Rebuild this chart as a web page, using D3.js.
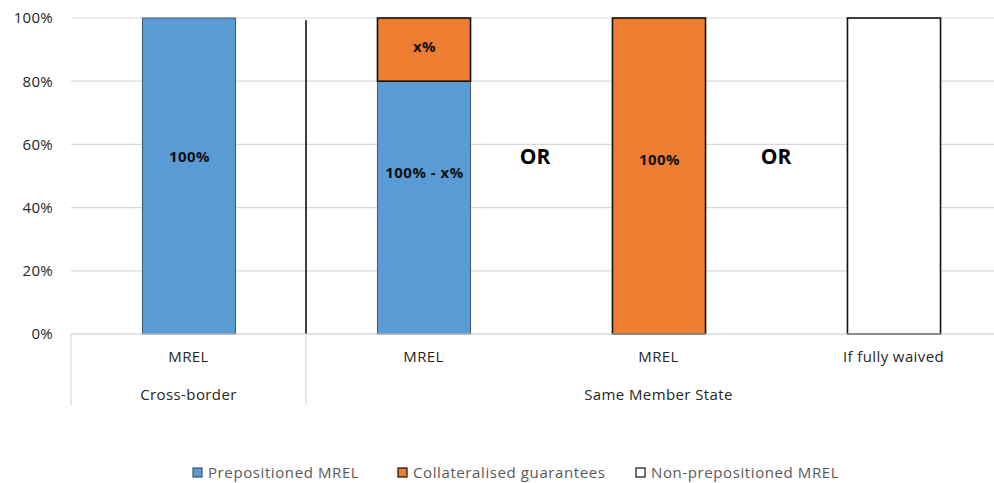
<!DOCTYPE html>
<html>
<head>
<meta charset="utf-8">
<script src="https://cdn.jsdelivr.net/npm/d3@7"></script>
<style>
  body { margin: 0; background: #fff; }
  svg { display: block; font-family: "Open Sans", "Liberation Sans", sans-serif; }
</style>
</head>
<body>
<svg id="chart" width="994" height="483"></svg>
<script>
// chart data
const categories = ["MREL", "MREL", "MREL", "If fully waived"];
const groups = [
  { label: "Cross-border", from: 0, to: 0 },
  { label: "Same Member State", from: 1, to: 3 }
];
const prepositioned = [100, 80, 0, 0];
const collateralised = [0, 20, 100, 0];
const nonPrepositioned = [0, 0, 0, 100];
const barLabels = [
  { i: 0, text: "100%", at: 56 },
  { i: 1, text: "100% - x%", at: 51 },
  { i: 1, text: "x%", at: 91 },
  { i: 2, text: "100%", at: 55 }
];
const orLabels = [
  { after: 1, text: "OR" },
  { after: 2, text: "OR" }
];
const yTicks = [0, 20, 40, 60, 80, 100];
const seriesNames = ["Prepositioned MREL", "Collateralised guarantees", "Non-prepositioned MREL"];
const seriesKeys = ["pre", "col", "non"];

const fills = { pre: "#5b9bd5", col: "#ed7d31", non: "#ffffff" };
const strokes = { pre: "#41566b", col: "#111111", non: "#111111" };

const svg = d3.select("#chart");
const plotLeft = 71, plotRight = 1011, plotTop = 18, plotBottom = 334;

const rows = categories.map((c, i) => ({
  i, pre: prepositioned[i], col: collateralised[i], non: nonPrepositioned[i]
}));

const x = d3.scaleBand()
  .domain(d3.range(categories.length))
  .range([plotLeft, plotRight])
  .paddingInner(0.604)
  .paddingOuter(0.302);
const y = d3.scaleLinear().domain([0, 100]).range([plotBottom, plotTop]);

// gridlines
svg.append("g").selectAll("line")
  .data(yTicks)
  .join("line")
  .attr("x1", plotLeft).attr("x2", plotRight)
  .attr("y1", d => y(d)).attr("y2", d => y(d))
  .attr("stroke", "#d9d9d9").attr("stroke-width", 1.2);

// y axis labels
const yAxis = d3.axisLeft(y).tickValues(yTicks).tickFormat(d => d + "%").tickSize(0).tickPadding(18);
const yg = svg.append("g").attr("transform", `translate(${plotLeft},0)`).call(yAxis);
yg.select(".domain").remove();
yg.selectAll("text").attr("font-size", 15).attr("fill", "#262626")
  .attr("letter-spacing", 0.3)
  .attr("font-family", "\"Open Sans\", sans-serif");

// stacked bars
const stack = d3.stack().keys(seriesKeys);
const layers = stack(rows);
svg.append("g").selectAll("g")
  .data(layers)
  .join("g")
  .each(function (layer) {
    d3.select(this).selectAll("rect")
      .data(layer.filter(d => d[1] > d[0]))
      .join("rect")
      .attr("x", d => x(d.data.i) + 0.5)
      .attr("y", d => y(d[1]))
      .attr("width", x.bandwidth())
      .attr("height", d => y(d[0]) - y(d[1]))
      .attr("fill", fills[layer.key])
      .attr("stroke", strokes[layer.key])
      .attr("stroke-width", layer.key === "pre" ? 1 : 1.6);
  });

// separator between cross-border and same member state
const sepX = x(1) - x.step() * x.paddingInner() / 2;
svg.append("line")
  .attr("x1", sepX).attr("x2", sepX)
  .attr("y1", y(99.3)).attr("y2", plotBottom)
  .attr("stroke", "#000").attr("stroke-width", 1.5);

// bar labels
svg.append("g").selectAll("text")
  .data(barLabels)
  .join("text")
  .attr("x", d => x(d.i) + x.bandwidth() / 2 + 1)
  .attr("y", d => y(d.at))
  .attr("dy", "0.35em")
  .attr("text-anchor", "middle")
  .attr("font-size", 15).attr("font-weight", "bold").attr("fill", "#111")
  .attr("letter-spacing", 0.5)
  .text(d => d.text);

// the first "OR" sits a little left of the gap centre
const orShift = [-6, 0];
svg.append("g").selectAll("text")
  .data(orLabels)
  .join("text")
  .attr("x", (d, k) => x(d.after) + x.bandwidth() + (x.step() - x.bandwidth()) / 2 + orShift[k])
  .attr("y", y(56))
  .attr("dy", "0.35em")
  .attr("text-anchor", "middle")
  .attr("font-size", 21).attr("font-weight", "bold").attr("fill", "#000")
  .text(d => d.text);

// category axis (two levels)
const axisBottom = 405;
svg.append("line")
  .attr("x1", plotLeft).attr("x2", plotRight).attr("y1", plotBottom).attr("y2", plotBottom)
  .attr("stroke", "#d9d9d9").attr("stroke-width", 1.2);
const groupEdges = [plotLeft, sepX, plotRight];
svg.append("g").selectAll("line")
  .data(groupEdges)
  .join("line")
  .attr("x1", d => d).attr("x2", d => d)
  .attr("y1", plotBottom).attr("y2", axisBottom)
  .attr("stroke", "#d9d9d9").attr("stroke-width", 1.2);

svg.append("g").selectAll("text")
  .data(categories)
  .join("text")
  .attr("x", (d, i) => x(i) + x.bandwidth() / 2)
  .attr("y", 357)
  .attr("dy", "0.35em")
  .attr("text-anchor", "middle")
  .attr("font-size", 15).attr("fill", "#262626")
  .attr("letter-spacing", 0.4)
  .text(d => d);

svg.append("g").selectAll("text")
  .data(groups)
  .join("text")
  .attr("x", d => {
    const a = d.from === 0 ? plotLeft : x(d.from) - x.step() * x.paddingInner() / 2;
    const b = d.to === categories.length - 1 ? plotRight : x(d.to) + x.bandwidth() + x.step() * x.paddingInner() / 2;
    return (a + b) / 2;
  })
  .attr("y", 395)
  .attr("dy", "0.35em")
  .attr("text-anchor", "middle")
  .attr("font-size", 15).attr("fill", "#262626")
  .attr("letter-spacing", 0.4)
  .text(d => d.label);

// legend
const legendX = [193, 398, 636];
const legend = svg.append("g").selectAll("g")
  .data(seriesKeys)
  .join("g")
  .attr("transform", (d, i) => `translate(${legendX[i]},473)`);
legend.append("rect")
  .attr("x", 0).attr("y", -5).attr("width", 9).attr("height", 9)
  .attr("fill", d => fills[d])
  .attr("stroke", d => d === "pre" ? "#41566b" : "#111").attr("stroke-width", 1.2);
legend.append("text")
  .attr("x", 15).attr("y", 0).attr("dy", "0.35em")
  .attr("font-size", 15).attr("fill", "#595959")
  .attr("letter-spacing", 0.6)
  .text((d, i) => seriesNames[i]);
</script>
</body>
</html>
